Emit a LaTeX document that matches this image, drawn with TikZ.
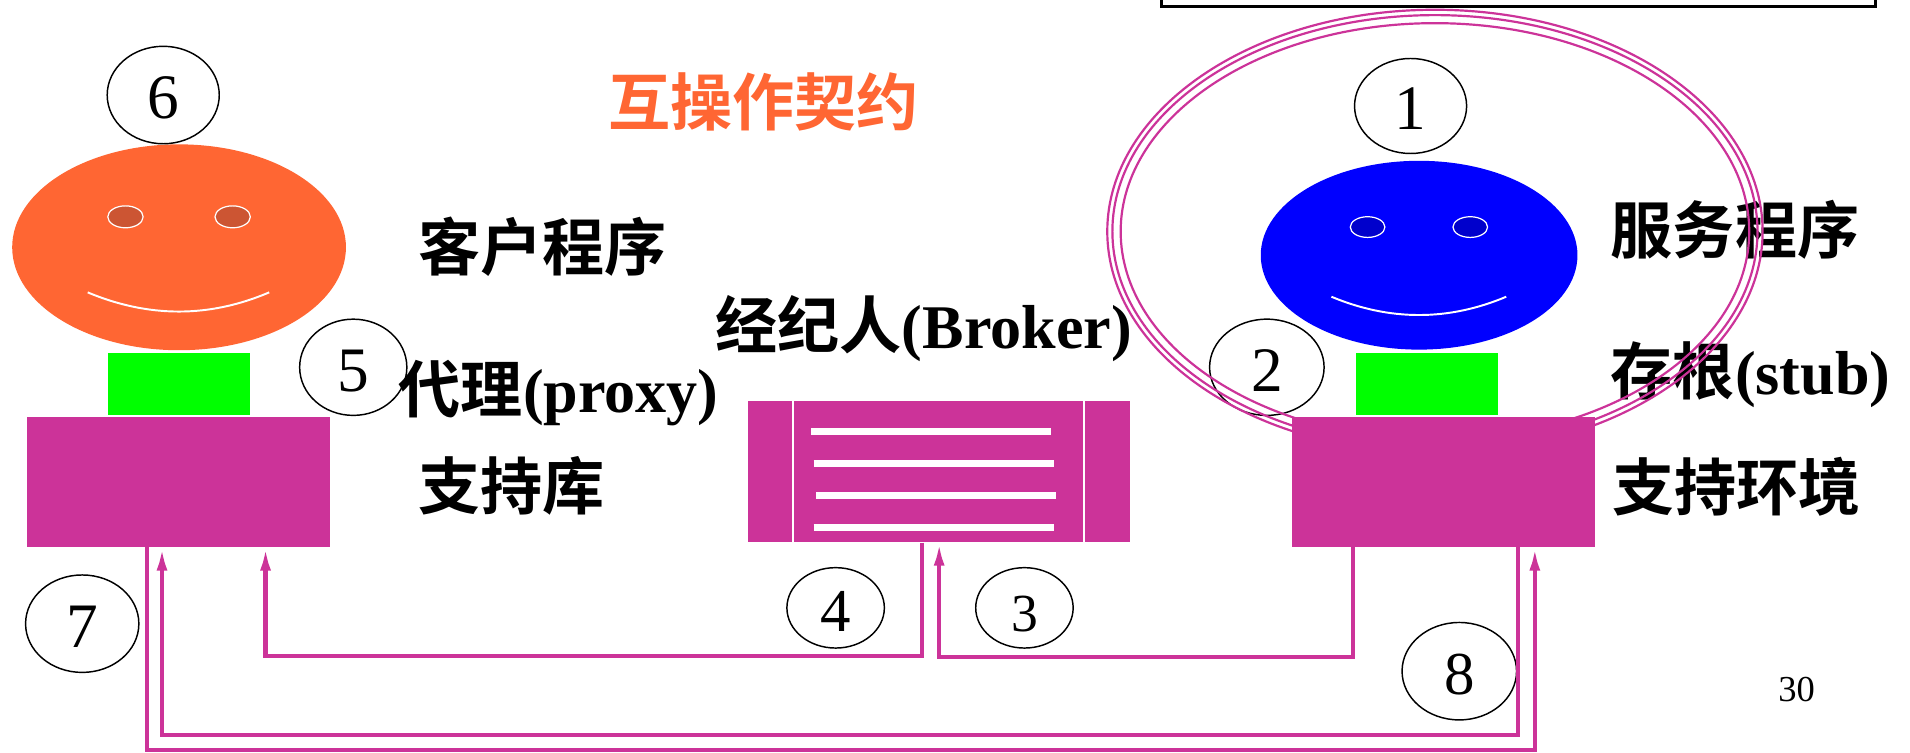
\documentclass[tikz,border=0pt]{standalone}
\usepackage{fontspec}
\setmainfont{Liberation Serif}
\newfontfamily\cjk{Noto Sans CJK SC}[BoldFont={Noto Sans CJK SC Bold}]
\usetikzlibrary{shapes.geometric,arrows.meta}

\definecolor{magent}{HTML}{CC3399}
\definecolor{faceorange}{HTML}{FF6633}
\definecolor{eyeorange}{HTML}{CC5533}
\definecolor{faceblue}{HTML}{0000FF}
\definecolor{eyeblue}{HTML}{0000CC}
\definecolor{stubgreen}{HTML}{00FF00}

\begin{document}
\begin{tikzpicture}[x=0.5pt,y=-0.5pt,
  lbl/.style={inner sep=0, anchor=base west, font=\bfseries\fontsize{25.5}{30}\selectfont},
  numcirc/.style={ellipse, draw, line width=0.6pt, inner sep=0, text height=19.5pt, text depth=0pt,
                  font=\fontsize{26}{26}\selectfont},
  block/.style={rectangle, fill=magent, inner sep=0},
  stubbox/.style={rectangle, fill=stubgreen, inner sep=0, minimum width=58.25pt, minimum height=25.5pt},
  eyeshape/.style={ellipse, draw=white, line width=0.5pt, inner sep=0, minimum width=14.5pt, minimum height=9pt},
  smile/.style={white, line width=0.8pt},
  link/.style={draw=magent, line width=1.7pt},
  arr/.style={-{Latex[length=9.5pt,width=4.5pt]}}
]
\useasboundingbox (0,0) rectangle (1568,618);

% frame cut by the top edge
\draw[line width=1.2pt] (953.5,-20) rectangle (1540,5.5);

% labels
\node[lbl, text=faceorange] (title) at (499,103) {\cjk 互操作契约};
\node[lbl] (client) at (343,222) {\cjk 客户程序};
\node[lbl] (proxy) at (327,339) {{\cjk 代理}(proxy)};
\node[lbl] (brokerlbl) at (587,286) {{\cjk 经纪人}(Broker)};
\node[lbl] (libl) at (343,418) {\cjk 支持库};
\node[lbl] (server) at (1322,208) {\cjk 服务程序};
\node[lbl] (stub) at (1322,324) {{\cjk 存根}(stub)};
\node[lbl] (envl) at (1323,419) {\cjk 支持环境};
\node[font=\fontsize{15}{15}\selectfont, anchor=base, inner sep=0] (page) at (1475,576) {30};

% client face
\node[ellipse, fill=faceorange, inner sep=0, minimum width=137pt, minimum height=84.5pt] (cface) at (147,203) {};
\node[eyeshape, fill=eyeorange] (ceyeL) at (103,178) {};
\node[eyeshape, fill=eyeorange] (ceyeR) at (191,178) {};
\draw[smile] (72,240) .. controls (122,261) and (172,261) .. (221,240);
\node[stubbox] (cproxy) at (146.75,315.5) {};

% server face
\node[ellipse, fill=faceblue, inner sep=0, minimum width=130pt, minimum height=77.5pt] (sface) at (1165,209.5) {};
\node[eyeshape, fill=eyeblue, minimum width=14.2pt, minimum height=8.5pt] (seyeL) at (1122.7,186.4) {};
\node[eyeshape, fill=eyeblue, minimum width=14.2pt, minimum height=8.5pt] (seyeR) at (1207,186.4) {};
\draw[smile] (1093,243.6) .. controls (1141,263.6) and (1189,263.6) .. (1236.5,243.6);
\node[stubbox] (sstub) at (1171.75,315.5) {};

% step numbers
\node[numcirc, minimum width=46pt, minimum height=39pt] (n1) at (1158,87) {1};
\node[numcirc, minimum width=47pt, minimum height=39.5pt] (n2) at (1040,301.5) {2};
\node[numcirc, minimum width=40pt, minimum height=33pt, font=\fontsize{22}{22}\selectfont] (n3) at (841,499) {3};
\node[numcirc, minimum width=40pt, minimum height=33pt, font=\fontsize{25}{25}\selectfont] (n4) at (686,499) {4};
\node[numcirc, minimum width=44pt, minimum height=39.5pt] (n5) at (290,301.5) {5};
\node[numcirc, minimum width=46pt, minimum height=40pt] (n6) at (134,78) {6};
\node[numcirc, minimum width=46.5pt, minimum height=40pt] (n7) at (67.5,512) {7};
\node[numcirc, minimum width=47pt, minimum height=40pt, font=\fontsize{25}{25}\selectfont] (n8) at (1198,551) {8};

% triple ring around the server side
\begin{scope}[magent, line width=0.9pt]
  \draw (1178,190) ellipse [x radius=134.5pt, y radius=91pt];
  \draw (1178,190) ellipse [x radius=132.4pt, y radius=88.8pt];
  \draw (1178,190) ellipse [x radius=129pt, y radius=85.5pt];
\end{scope}

% support blocks and broker
\node[block, minimum width=124.5pt, minimum height=53.5pt] (lib) at (146.5,395.5) {};
\node[block, minimum width=157pt, minimum height=58pt] (broker) at (771,387) {};
\node[block, minimum width=124pt, minimum height=53.5pt] (srv) at (1185,395.5) {};

\draw[white, line width=0.6pt] (651,329) -- (651,445) (890,329) -- (890,445);
\begin{scope}[white, line width=2.75pt]
  \draw (666,354.4) -- (863,354.4);
  \draw (668,380.7) -- (865,380.7);
  \draw (670,407) -- (867,407);
  \draw (668,433.2) -- (865,433.2);
\end{scope}

% connectors
\coordinate (c4) at (757,0);    \coordinate (r4) at (0,538.5);  \coordinate (d4) at (218,0);
\coordinate (c3) at (1110.6,0); \coordinate (r3) at (0,539);    \coordinate (d3) at (771,0);
\coordinate (c7) at (120.5,0);  \coordinate (r7) at (0,616);    \coordinate (d7) at (1260,0);
\coordinate (c8) at (1246.5,0); \coordinate (r8) at (0,603.5);  \coordinate (d8) at (133,0);

\draw[link, arr] (broker.south -| c4) -- (c4 |- r4) -| (lib.south -| d4);
\draw[link, arr] (srv.south -| c3) -- (c3 |- r3) -| (broker.south -| d3);
\draw[link, arr] (lib.south -| c7) -- (c7 |- r7) -| (srv.south -| d7);
\draw[link, arr] (srv.south -| c8) -- (c8 |- r8) -| (lib.south -| d8);
\end{tikzpicture}
\end{document}
